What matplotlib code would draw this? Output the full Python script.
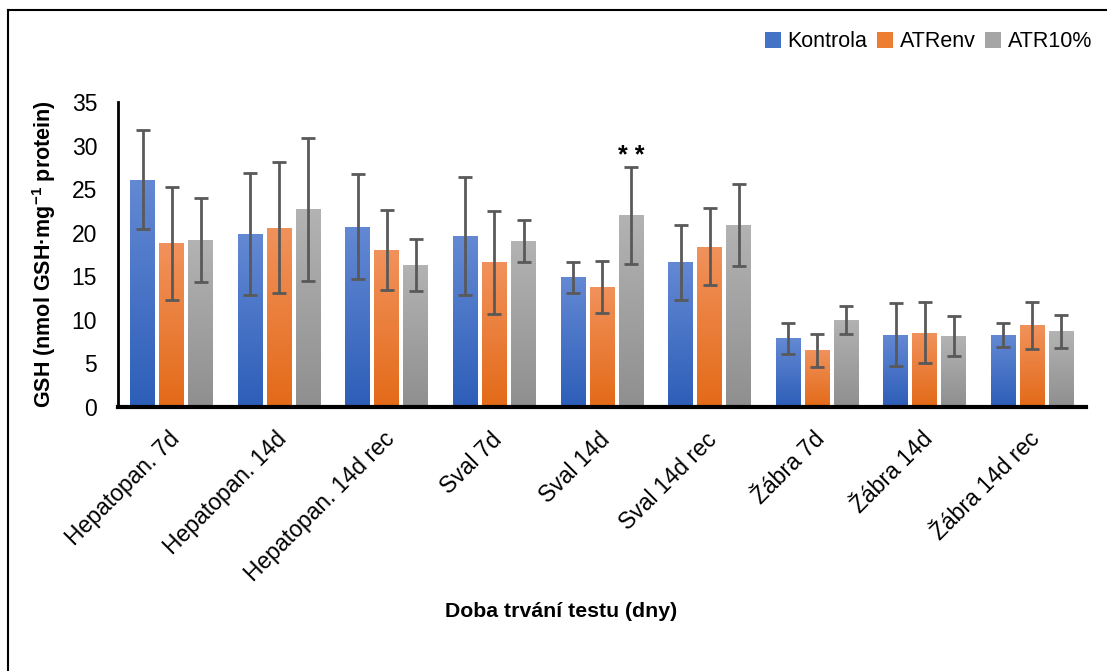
import numpy as np
import matplotlib
matplotlib.use("Agg")
import matplotlib.pyplot as plt
import matplotlib.transforms as mtransforms
from matplotlib.colors import LinearSegmentedColormap
from matplotlib.lines import Line2D
from matplotlib.patches import Patch

plt.rcParams['font.family'] = ['Liberation Sans', 'DejaVu Sans']

categories = ["Hepatopan. 7d", "Hepatopan. 14d", "Hepatopan. 14d rec", "Sval 7d",
              "Sval 14d", "Sval 14d rec", "Žábra 7d", "Žábra 14d", "Žábra 14d rec"]
series = ["Kontrola", "ATRenv", "ATR10%"]
kontrola = [26.1, 19.9, 20.7, 19.6, 14.9, 16.6, 7.9, 8.3, 8.3]
kontrola_err = [5.7, 7.0, 6.0, 6.8, 1.8, 4.3, 1.8, 3.6, 1.4]
atrenv = [18.8, 20.6, 18.0, 16.6, 13.8, 18.4, 6.5, 8.5, 9.4]
atrenv_err = [6.5, 7.5, 4.6, 5.9, 3.0, 4.4, 1.9, 3.5, 2.7]
atr10 = [19.2, 22.7, 16.3, 19.1, 22.0, 20.9, 10.0, 8.1, 8.7]
atr10_err = [4.8, 8.2, 3.0, 2.4, 5.6, 4.7, 1.6, 2.3, 1.9]
yticks = [0, 5, 10, 15, 20, 25, 30, 35]
signif_label = "* *"
signif_index = 4

values = [kontrola, atrenv, atr10]
errors = [kontrola_err, atrenv_err, atr10_err]
top_colors = ["#6489D4", "#F1925C", "#B3B3B3"]
bot_colors = ["#2D5EB8", "#E36A18", "#8F8F8F"]
mid_colors = ["#4472C4", "#ED7D31", "#A5A5A5"]

fig = plt.figure(figsize=(11.07, 6.71), dpi=100)
ax = fig.add_axes([0.1066, 0.3934, 0.8745, 0.4545])

x = np.arange(len(categories))
pitch = 0.27
width = 0.232
grad = np.linspace(0, 1, 256).reshape(-1, 1)
for i, (vals, errs) in enumerate(zip(values, errors)):
    pos = x + (i - 1) * pitch
    bars = ax.bar(pos, vals, width, color=mid_colors[i], zorder=2, label=series[i])
    cmap = LinearSegmentedColormap.from_list("g%d" % i, [bot_colors[i], top_colors[i]])
    for b in bars:
        bx, bw, bh = b.get_x(), b.get_width(), b.get_height()
        im = ax.imshow(grad, extent=[bx, bx + bw, 0, bh], origin='lower', cmap=cmap,
                       aspect='auto', zorder=2.1)
        im.set_clip_path(b)
    ax.errorbar(pos, vals, yerr=errs, fmt='none', ecolor='#595959', elinewidth=2,
                capsize=5, capthick=2, zorder=3)

# significance marker
sig_x = x[signif_index] + pitch
sig_y = atr10[signif_index] + atr10_err[signif_index]
ax.annotate(signif_label, (sig_x, sig_y), xytext=(0, -1), textcoords='offset points',
            ha='center', va='bottom', fontsize=18, fontweight='bold')

ax.set_xlim(-0.5, len(categories) - 0.5)
ax.set_ylim(0, 35)
ax.set_yticks(yticks)
ax.set_yticklabels([str(t) for t in yticks], fontsize=16.5)
ax.set_xticks(x)
ax.set_xticklabels(categories, fontsize=16.5, rotation=45, ha='right',
                   rotation_mode='anchor')
ax.tick_params(axis='both', length=0)
ax.tick_params(axis='y', pad=15)
ax.tick_params(axis='x', pad=10)
offset = mtransforms.ScaledTranslation(-4 / 100, -7 / 100, fig.dpi_scale_trans)
for lab in ax.get_xticklabels():
    lab.set_transform(lab.get_transform() + offset)
for s in ['top', 'right']:
    ax.spines[s].set_visible(False)
ax.spines['left'].set_linewidth(2)
ax.spines['bottom'].set_linewidth(3)
ax.spines['bottom'].set_zorder(4)

ax.set_ylabel("GSH (nmol GSH·mg$^{\\mathregular{-1}}$ protein)", fontsize=15.5,
              fontweight='bold', labelpad=10)
fig.text(0.507, 0.088, "Doba trvání testu (dny)", ha='center', va='center',
         fontsize=15.3, fontweight='bold')

handles = [Patch(facecolor=mid_colors[i]) for i in range(3)]
fig.legend(handles, series, loc='upper right', bbox_to_anchor=(1.004, 0.982), ncol=3,
           frameon=False, fontsize=15.5, handlelength=0.75, handleheight=0.75,
           handletextpad=0.3, columnspacing=0.45)

# outer frame (left & top edges visible in the reference)
fig.add_artist(Line2D([0.0072, 0.0072], [0, 0.985], transform=fig.transFigure,
                      color='black', lw=1.5))
fig.add_artist(Line2D([0.0072, 1.0], [0.985, 0.985], transform=fig.transFigure,
                      color='black', lw=1.5))

fig.savefig("out.png", dpi=100)
